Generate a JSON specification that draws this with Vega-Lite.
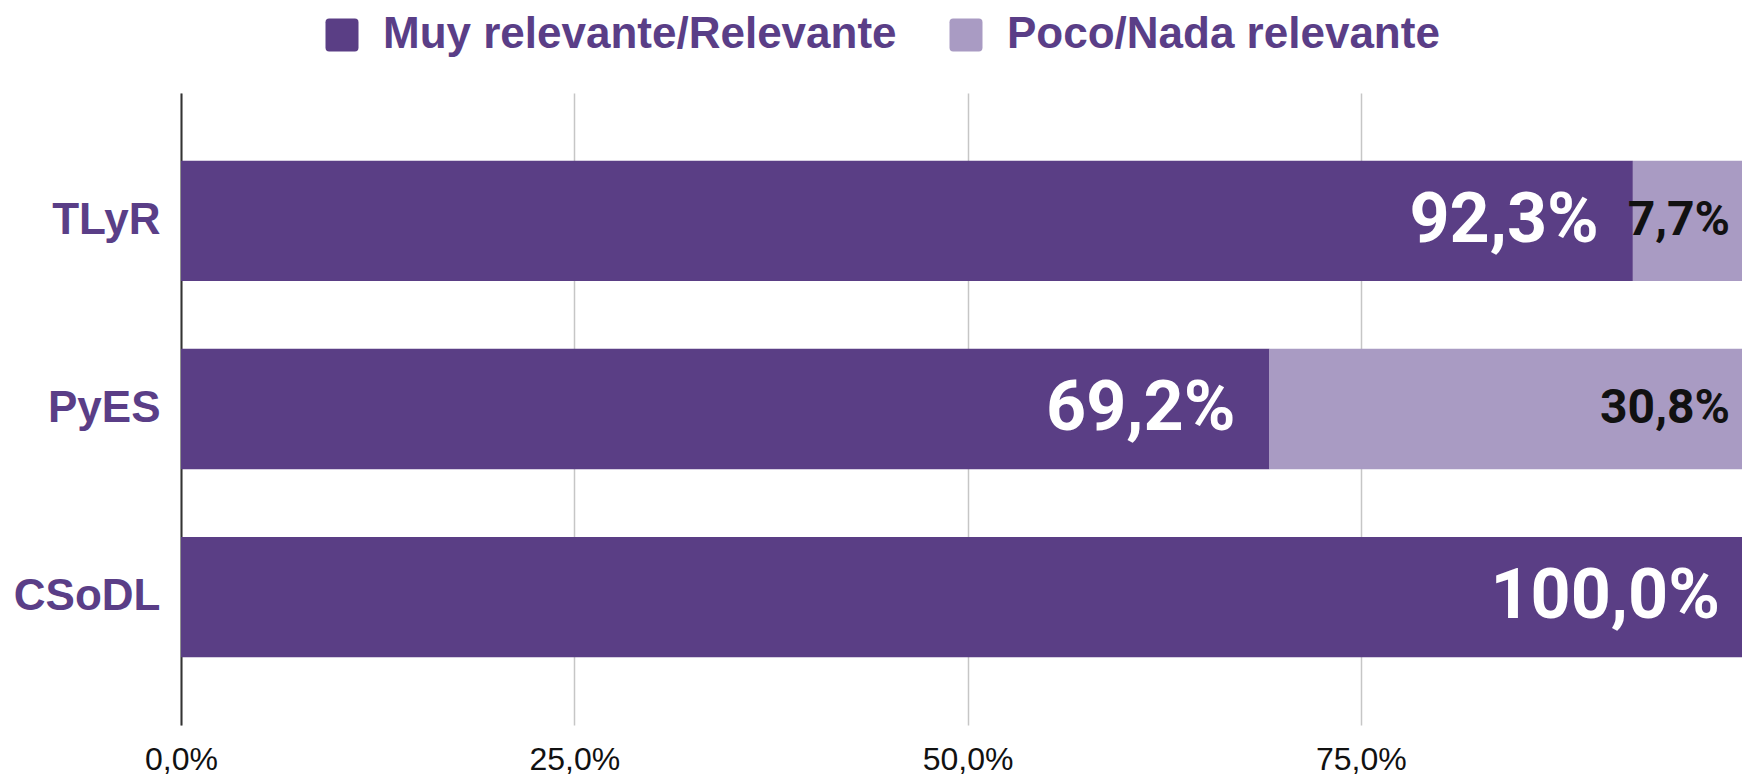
{
  "$schema": "https://vega.github.io/schema/vega-lite/v6.json",
  "autosize": {"type": "none"},
  "width": 1561,
  "height": 632,
  "padding": {"left": 181, "top": 93, "right": 0, "bottom": 51},
  "background": "white",
  "config": {"view": {"stroke": null}},
  "data": {
    "values": [
      {"categoria": "TLyR", "respuesta": "Muy relevante/Relevante", "pct": 92.3},
      {"categoria": "TLyR", "respuesta": "Poco/Nada relevante", "pct": 7.7},
      {"categoria": "PyES", "respuesta": "Muy relevante/Relevante", "pct": 69.2},
      {"categoria": "PyES", "respuesta": "Poco/Nada relevante", "pct": 30.8},
      {"categoria": "CSoDL", "respuesta": "Muy relevante/Relevante", "pct": 100.0}
    ]
  },
  "transform": [
    {"stack": "pct", "groupby": ["categoria"], "sort": [{"field": "respuesta", "order": "ascending"}], "as": ["x0", "x1"]},
    {"calculate": "replace(format(datum.pct / 100, '.1%'), '.', ',')", "as": "etiqueta"}
  ],
  "encoding": {
    "y": {
      "field": "categoria",
      "type": "nominal",
      "sort": ["TLyR", "PyES", "CSoDL"],
      "title": null,
      "scale": {"paddingInner": 0.36, "paddingOuter": 0.36},
      "axis": {
        "ticks": false,
        "domain": true,
        "domainColor": "#333333",
        "domainWidth": 2,
        "labelFont": "Liberation Sans",
        "labelFontWeight": "bold",
        "labelFontSize": 44,
        "labelColor": "#5a3e87",
        "labelPadding": 21,
        "labelLimit": 0,
        "grid": false
      }
    }
  },
  "layer": [
    {
      "mark": {"type": "bar", "orient": "horizontal"},
      "encoding": {
        "x": {
          "field": "x0",
          "type": "quantitative",
          "title": null,
          "scale": {"domain": [0, 100], "range": [0, 1573], "nice": false},
          "axis": {
            "values": [0, 25, 50, 75],
            "labelExpr": "replace(format(datum.value / 100, '.1%'), '.', ',')",
            "labelFlush": false,
            "domain": false,
            "ticks": false,
            "grid": true,
            "gridColor": "#c6c6c6",
            "gridWidth": 1.5,
            "labelFont": "Liberation Sans",
            "labelFontSize": 32,
            "labelColor": "#111111",
            "labelPadding": 19
          }
        },
        "x2": {"field": "x1"},
        "color": {
          "field": "respuesta",
          "type": "nominal",
          "scale": {
            "domain": ["Muy relevante/Relevante", "Poco/Nada relevante"],
            "range": ["#5a3e85", "#a99bc3"]
          },
          "legend": {
            "orient": "none",
            "legendX": 139,
            "legendY": -80,
            "direction": "horizontal",
            "title": null,
            "padding": 0,
            "symbolType": "M -0.78 -1 L 0.78 -1 Q 1 -1 1 -0.78 L 1 0.78 Q 1 1 0.78 1 L -0.78 1 Q -1 1 -1 0.78 L -1 -0.78 Q -1 -1 -0.78 -1 Z",
            "symbolSize": 1089,
            "symbolStrokeWidth": 0,
            "symbolOpacity": 1,
            "labelFont": "Liberation Sans",
            "labelFontWeight": "bold",
            "labelFontSize": 44,
            "labelColor": "#5a3e87",
            "labelOffset": 19,
            "labelLimit": 0,
            "columnPadding": 47
          }
        }
      }
    },
    {
      "transform": [{"filter": "datum.respuesta === 'Muy relevante/Relevante'"}],
      "mark": {
        "type": "text",
        "align": "right",
        "baseline": "middle",
        "dx": -34,
        "font": "Roboto",
        "fontWeight": "bold",
        "fontSize": 70,
        "color": "white"
      },
      "encoding": {
        "x": {"field": "x1", "type": "quantitative"},
        "text": {"field": "etiqueta", "type": "nominal"}
      }
    },
    {
      "transform": [{"filter": "datum.respuesta === 'Poco/Nada relevante'"}],
      "mark": {
        "type": "text",
        "align": "right",
        "baseline": "middle",
        "dx": -24,
        "font": "Roboto",
        "fontWeight": "bold",
        "fontSize": 48,
        "color": "#111111"
      },
      "encoding": {
        "x": {"field": "x1", "type": "quantitative"},
        "text": {"field": "etiqueta", "type": "nominal"}
      }
    }
  ]
}
